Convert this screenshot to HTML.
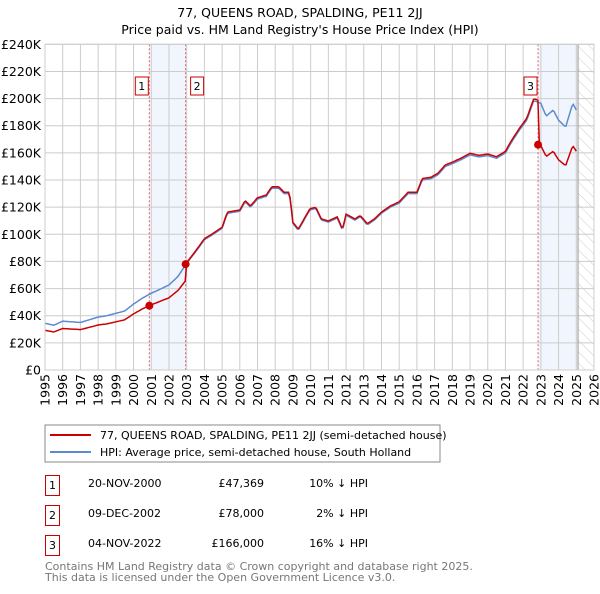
<!DOCTYPE html>
<html><head><meta charset="utf-8"><style>
body{margin:0;background:#fff;font-family:"DejaVu Sans","Liberation Sans",sans-serif;}
svg text{font-family:"DejaVu Sans","Liberation Sans",sans-serif;}
</style></head><body>
<svg id="chart" width="600" height="590" xmlns="http://www.w3.org/2000/svg">
<defs><pattern id="hatch" width="8" height="8" patternUnits="userSpaceOnUse" patternTransform="rotate(-45)"><line x1="0" y1="0" x2="0" y2="8" stroke="#ccc" stroke-width="1"/></pattern></defs>
<text x="300" y="17" text-anchor="middle" font-size="12.5">77, QUEENS ROAD, SPALDING, PE11 2JJ</text>
<text x="300" y="34" text-anchor="middle" font-size="12.5">Price paid vs. HM Land Registry's House Price Index (HPI)</text>
<g id="plot"></g>
<rect x="45" y="425" width="395" height="37" fill="#fff" stroke="#888"/>
<line x1="50" y1="435" x2="91" y2="435" stroke="#cc0000" stroke-width="2"/>
<text x="100" y="439" font-size="11">77, QUEENS ROAD, SPALDING, PE11 2JJ (semi-detached house)</text>
<line x1="50" y1="452" x2="91" y2="452" stroke="#5b8bd0" stroke-width="2"/>
<text x="100" y="456" font-size="11">HPI: Average price, semi-detached house, South Holland</text>
<g font-size="11">
<rect x="45.5" y="475.5" width="14" height="20" fill="#fff" stroke="#cc0000"/><text x="52.5" y="489" text-anchor="middle">1</text>
<text x="88" y="487">20-NOV-2000</text><text x="264" y="487" text-anchor="end">£47,369</text><text x="368" y="487" text-anchor="end">10% ↓ HPI</text>
<rect x="45.5" y="505.5" width="14" height="20" fill="#fff" stroke="#cc0000"/><text x="52.5" y="519" text-anchor="middle">2</text>
<text x="88" y="517">09-DEC-2002</text><text x="264" y="517" text-anchor="end">£78,000</text><text x="368" y="517" text-anchor="end">2% ↓ HPI</text>
<rect x="45.5" y="535.5" width="14" height="20" fill="#fff" stroke="#cc0000"/><text x="52.5" y="549" text-anchor="middle">3</text>
<text x="88" y="547">04-NOV-2022</text><text x="264" y="547" text-anchor="end">£166,000</text><text x="368" y="547" text-anchor="end">16% ↓ HPI</text>
</g>
<text x="45" y="570" font-size="11" fill="#777">Contains HM Land Registry data © Crown copyright and database right 2025.</text>
<text x="45" y="581" font-size="11" fill="#777">This data is licensed under the Open Government Licence v3.0.</text>
</svg>
<script>
const hpiYears=[1995,1995.5,1996,1997,1998,1998.5,1999.5,2000,2000.5,2001,2002,2002.5,2003,2003.5,2004,2004.5,2005,2005.3,2006,2006.3,2006.6,2007,2007.5,2007.8,2008.2,2008.5,2008.8,2009.0,2009.3,2009.96,2010.3,2010.6,2011,2011.5,2011.8,2012,2012.5,2012.8,2013.2,2013.6,2014,2014.5,2015,2015.5,2016,2016.3,2016.8,2017.2,2017.6,2018,2018.5,2019,2019.5,2020,2020.5,2021,2021.3,2021.8,2022.2,2022.6,2023,2023.3,2023.7,2024,2024.4,2024.8,2025.0];
const hpiValues=[34.4,33,36,35,39,40,43.5,48.6,53,56.5,62.6,68.8,78.6,87,96,100,104.4,115.5,117,124,120,126,128,134,134,130,130,108,103,118,119,110.5,109,112,103,114,110.5,113,107,110.5,115.5,120,123,130,130,140,141,144,150,152,155,158.5,157,158,156,160,167,177,184,198.5,196.5,187,191.6,184,179,196.5,191.6];
const saleYears=[2000.89,2002.94,2022.84];
const salePrices=[47.369,78,166];
const saleLabels=["1","2","3"];
const yTicks=[0,20,40,60,80,100,120,140,160,180,200,220,240];
const xTicks=[1995,1996,1997,1998,1999,2000,2001,2002,2003,2004,2005,2006,2007,2008,2009,2010,2011,2012,2013,2014,2015,2016,2017,2018,2019,2020,2021,2022,2023,2024,2025,2026];

const X0=45,X1=594,Y0=370,Y1=44.3;
const sx=y=>X0+(y-1995)*(X1-X0)/31;
const sy=v=>Y0-v*(Y0-Y1)/240;
const NS="http://www.w3.org/2000/svg";
const g=document.getElementById('plot');
function mk(t,a){const e=document.createElementNS(NS,t);for(const k in a)e.setAttribute(k,a[k]);g.appendChild(e);return e;}
function hpiAt(t){for(let i=0;i<hpiYears.length-1;i++){if(t<=hpiYears[i+1]){const f=(t-hpiYears[i])/(hpiYears[i+1]-hpiYears[i]);return hpiValues[i]+f*(hpiValues[i+1]-hpiValues[i]);}}return hpiValues[hpiValues.length-1];}

let e;
e=mk('rect',{x:sx(saleYears[0]),y:Y1,width:sx(saleYears[1])-sx(saleYears[0]),height:Y0-Y1,fill:'#eef3fc',opacity:0.8});


e=mk('rect',{x:sx(saleYears[2]),y:Y1,width:sx(2025.1)-sx(saleYears[2]),height:Y0-Y1,fill:'#eef3fc',opacity:0.8});


e=mk('rect',{x:sx(2025.1),y:Y1,width:X1-sx(2025.1),height:Y0-Y1,fill:'url(#hatch)'});



yTicks.forEach(v=>{
 e=mk('line',{x1:X0,x2:X1,y1:sy(v),y2:sy(v),stroke:'#ccc'});
 
 
 e=mk('text',{x:X0-4,y:sy(v)+4.5,'text-anchor':'end','font-size':'12.5'});
 e.textContent=v===0?'£0':'£'+v+'K';
 
 
});
xTicks.forEach(y=>{
 e=mk('line',{x1:sx(y),x2:sx(y),y1:Y1,y2:Y0,stroke:'#ccc'});
 
 
 const tx=sx(y)+4.5, ty=374;
 e=mk('text',{x:tx,y:ty,'text-anchor':'end','font-size':'12.5',transform:'rotate(-90 '+tx+' '+ty+')'});
 e.textContent=y;
 
 
});
e=mk('line',{x1:sx(2025.1),x2:sx(2025.1),y1:Y1,y2:Y0,stroke:'#999'});



saleYears.forEach((s,i)=>{
 e=mk('line',{x1:sx(s),x2:sx(s),y1:Y1,y2:Y0,stroke:'#e06060','stroke-dasharray':'2,2'});
 
 
});

let d='';
const T=[];for(let t=1995;t<=2025.05;t+=1/12)T.push(t);
T.forEach((t,i)=>{d+=(i?'L':'M')+sx(t).toFixed(1)+','+sy(hpiAt(t)).toFixed(1);});
e=mk('path',{d:d,fill:'none',stroke:'#5b8bd0','stroke-width':1.5});



function priceAt(t){let k=0;for(let i=0;i<saleYears.length;i++)if(t>=saleYears[i])k=i;return salePrices[k]*hpiAt(t)/hpiAt(saleYears[k]);}
d='';
T.forEach((t,i)=>{d+=(i?'L':'M')+sx(t).toFixed(1)+','+sy(priceAt(t)).toFixed(1);});
e=mk('path',{d:d,fill:'none',stroke:'#cc0000','stroke-width':1.5});



saleYears.forEach((s,i)=>{
 e=mk('circle',{cx:sx(s),cy:sy(salePrices[i]),r:4,fill:'#cc0000'});
 
 
 const by=77;
 e=mk('rect',{x:sx(s)+(i===1?5:-14),y:by,width:13,height:18,fill:'#fff',stroke:'#cc0000'});
 
 
 e=mk('text',{x:sx(s)+(i===1?11.5:-7.5),y:by+13,'text-anchor':'middle','font-size':'11'});
 e.textContent=saleLabels[i];
 
 
});
e=mk('rect',{x:X0,y:Y1,width:X1-X0,height:Y0-Y1,fill:'none',stroke:'#ccc'});


</script>
</body></html>
